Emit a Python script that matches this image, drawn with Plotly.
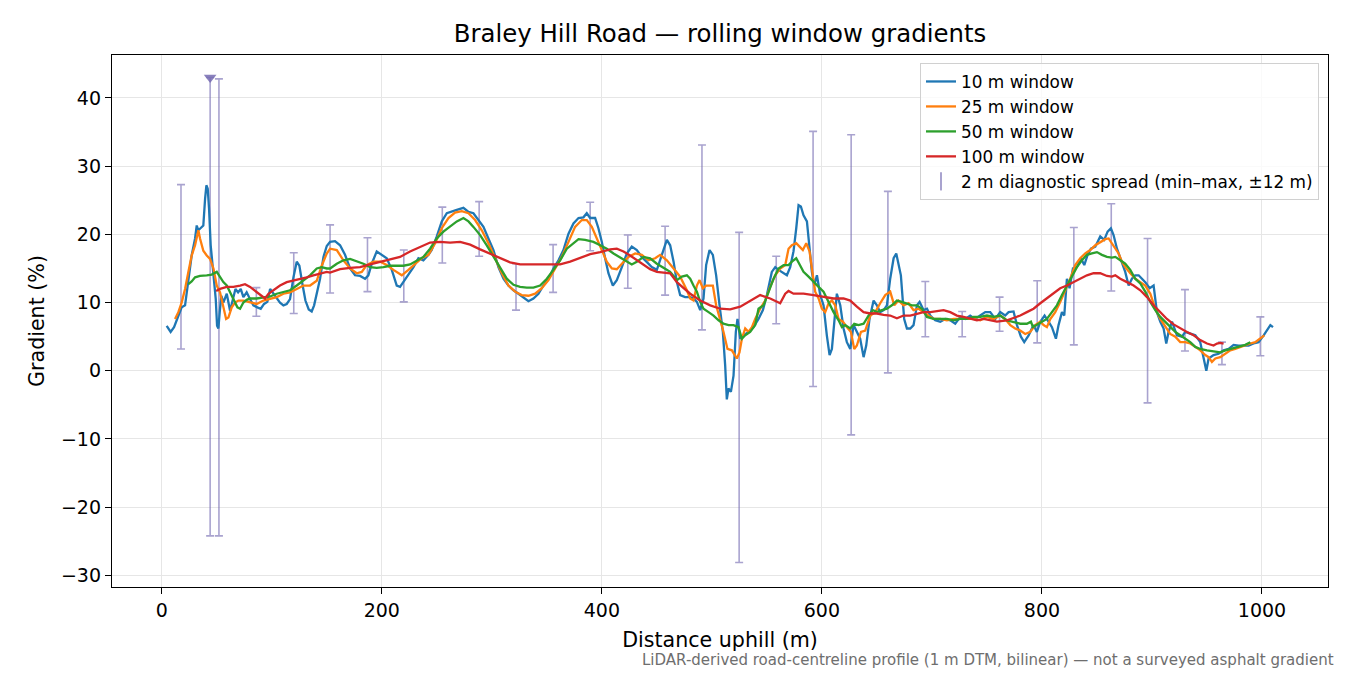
import plotly.graph_objects as go

# distance along the road (m) and gradient (%) for each rolling window
dist_10 = [4.5, 8.1, 11.2, 15.1, 18.1, 21.2, 24.2, 27.2, 30.3, 31.8, 33.3, 36.3, 37.8, 39.4, 40.6, 41.8,
           43.0, 44.5, 46.0, 47.5, 49.1, 50.3, 51.5, 52.7, 54.2, 56.0, 59.1, 62.1, 64.5, 67.0, 69.4, 71.8,
           74.2, 77.2, 80.3, 83.3, 86.9, 90.0, 93.0, 96.0, 98.5, 100.9, 103.9, 107.5, 110.6, 113.6, 116.6,
           119.7, 122.7, 125.1, 128.1, 130.6, 133.6, 136.3, 138.5, 140.9, 143.9, 147.0, 150.0, 153.0, 157.5,
           162.1, 166.6, 171.2, 175.7, 180.3, 184.8, 187.8, 190.9, 195.4, 200.0, 204.5, 209.1, 213.6, 216.6,
           219.7, 224.2, 228.8, 233.3, 237.8, 242.4, 245.4, 250.0, 254.5, 259.1, 263.6, 268.2, 274.2, 278.8,
           283.3, 287.8, 292.4, 296.9, 301.5, 306.0, 310.6, 315.1, 319.7, 324.2, 328.8, 333.3, 337.8, 342.4,
           346.9, 351.5, 356.0, 360.6, 365.1, 369.7, 374.2, 378.8, 383.3, 386.3, 389.4, 393.9, 396.9, 400.0,
           403.0, 406.0, 410.0, 413.6, 418.2, 422.7, 427.2, 431.8, 436.3, 440.9, 445.4, 450.0, 454.5, 459.1,
           462.1, 465.2, 468.2, 471.2, 475.7, 480.3, 483.3, 486.4, 489.4, 492.4, 494.8, 497.9, 500.9, 503.9,
           507.0, 510.0, 512.1, 513.6, 515.1, 517.3, 519.7, 521.8, 523.3, 525.8, 528.8, 533.3, 537.9, 542.4,
           546.4, 550.0, 554.5, 557.6, 560.6, 563.6, 568.2, 571.2, 574.2, 576.7, 578.8, 580.9, 583.3, 586.4,
           588.8, 590.9, 593.0, 595.5, 598.5, 601.5, 604.5, 607.0, 609.1, 611.2, 613.6, 616.7, 619.7, 622.7,
           625.8, 628.8, 631.8, 634.8, 637.9, 640.3, 643.3, 647.0, 650.0, 653.0, 656.1, 659.1, 662.1, 665.2,
           667.6, 669.7, 671.8, 674.8, 677.3, 680.3, 683.3, 686.4, 688.8, 692.4, 695.5, 698.5, 703.0, 707.6,
           712.1, 716.7, 721.2, 725.8, 730.3, 734.8, 739.4, 743.9, 748.5, 753.0, 757.6, 762.1, 766.6, 769.7,
           774.2, 777.3, 780.9, 783.9, 787.9, 792.4, 795.4, 798.5, 802.4, 806.0, 809.1, 812.7, 815.1, 818.2,
           820.3, 822.7, 825.1, 828.2, 831.8, 835.4, 838.5, 841.5, 844.5, 848.5, 853.0, 856.6, 859.7, 862.7,
           865.1, 868.2, 871.2, 875.7, 878.8, 881.8, 884.8, 887.9, 890.9, 893.9, 897.9, 901.5, 904.5, 907.6,
           910.6, 913.0, 915.1, 918.2, 922.7, 927.2, 930.3, 934.8, 939.4, 943.9, 947.6, 949.4, 951.5, 956.0,
           960.6, 965.1, 969.7, 974.2, 978.8, 983.3, 987.9, 992.4, 996.9, 1001.5, 1004.5, 1007.6, 1010.0]
grad_10 = [6.6, 5.7, 6.4, 8.1, 9.3, 9.6, 13.7, 16.9, 19.4, 21.3, 20.6, 21.1, 21.3, 25.2, 27.2, 26.7,
           23.8, 18.4, 15.9, 14.0, 10.5, 6.6, 6.2, 8.6, 11.0, 10.0, 11.3, 8.8, 10.5, 12.0, 11.5, 12.0,
           10.8, 11.5, 10.5, 9.6, 9.3, 9.1, 9.8, 10.1, 12.0, 11.5, 10.9, 10.0, 9.6, 9.8, 10.5,
           13.7, 16.0, 15.4, 12.5, 10.3, 9.0, 8.7, 9.6, 11.5, 13.5, 16.7, 18.3, 18.9, 19.0,
           18.4, 17.0, 15.0, 14.0, 13.9, 13.5, 14.0, 15.7, 17.5, 17.0, 16.5, 14.8, 12.5, 12.3,
           13.0, 14.0, 15.2, 16.5, 16.2, 17.0, 17.7, 19.7, 21.9, 23.1, 23.3, 23.6, 23.9, 23.3,
           23.1, 22.1, 21.1, 19.4, 17.7, 15.2, 13.5, 12.5, 11.8, 11.3, 10.8, 10.2, 10.6, 11.3,
           12.5, 13.5, 15.0, 16.2, 17.7, 20.1, 21.6, 22.4, 22.5, 23.1, 22.4, 22.4, 20.9, 18.9,
           16.5, 14.3, 12.5, 13.3, 15.2, 17.2, 18.2, 17.7, 16.7, 16.0, 15.2, 14.8, 17.0, 19.2,
           18.4, 16.0, 13.0, 11.1, 10.8, 10.8, 10.6, 10.1, 8.9, 10.6, 15.5, 17.7, 17.0, 14.0,
           9.6, 5.7, 0.8, -4.2, -2.6, -3.1, -0.7, 5.7, 7.6, 4.7, 5.2, 5.7, 6.4, 7.6,
           8.9, 11.1, 14.5, 15.2, 14.8, 14.5, 14.0, 15.2, 17.5, 20.9, 24.3, 24.1, 22.8, 21.9,
           18.4, 14.5, 12.5, 14.0, 11.1, 9.6, 5.2, 2.3, 3.2, 7.6, 11.3, 9.6, 6.2, 4.2,
           3.2, 6.7, 5.7, 4.7, 2.0, 3.7, 7.6, 10.3, 9.6, 8.6, 8.9, 9.6, 13.5, 16.5,
           17.2, 15.5, 14.0, 7.6, 6.2, 6.2, 6.7, 9.6, 10.1, 8.9, 9.1, 8.1, 7.4, 7.2,
           7.6, 7.4, 6.9, 7.9, 7.6, 8.1, 7.6, 8.1, 8.6, 8.6, 7.6, 8.6, 8.1, 8.6,
           8.7, 6.7, 5.0, 4.2, 5.2, 6.7, 5.7, 7.2, 8.1, 7.2, 6.4, 4.7, 6.7, 8.6,
           8.1, 13.5, 12.1, 15.0, 15.2, 16.5, 15.5, 17.0, 17.9, 18.2, 19.7, 19.2, 20.4, 20.9,
           19.9, 17.9, 16.5, 14.5, 12.5, 13.5, 14.0, 14.0, 13.5, 13.0, 12.1, 12.5, 8.6, 7.2,
           6.2, 4.0, 5.7, 7.2, 5.2, 5.0, 5.7, 5.4, 5.2, 4.2, 1.3, 0.0, 1.8, 2.3,
           2.5, 3.0, 3.2, 3.8, 3.7, 3.7, 3.7, 4.0, 4.2, 5.2, 5.9, 6.7, 6.4]

dist_25 = [12.1, 15.1, 18.1, 21.2, 24.2, 27.2, 30.3, 33.3, 34.8, 37.8, 40.9, 43.9, 47.0, 50.0, 53.0, 56.0,
           58.5, 60.6, 63.6, 66.6, 69.7, 74.2, 80.3, 86.3, 92.4, 98.5, 104.5, 110.6, 116.6, 122.7, 128.8,
           134.8, 140.9, 145.4, 150.0, 153.0, 159.1, 165.1, 171.2, 177.2, 181.8, 186.3, 192.4, 198.5, 204.5,
           210.6, 218.2, 224.2, 230.3, 236.3, 242.4, 248.5, 254.5, 260.6, 266.6, 272.7, 278.8, 284.8, 290.9,
           296.9, 303.0, 309.1, 315.1, 321.2, 327.2, 333.3, 339.4, 345.4, 351.5, 357.5, 363.6, 369.7, 375.7,
           381.8, 386.3, 390.9, 395.4, 400.0, 404.5, 409.1, 413.6, 418.2, 424.2, 430.3, 436.3, 442.4, 448.5,
           453.0, 459.1, 465.2, 471.2, 477.3, 480.3, 483.3, 486.4, 488.8, 491.8, 494.8, 497.9, 500.9, 503.9,
           507.6, 510.6, 514.2, 518.2, 522.7, 525.1, 527.3, 530.3, 533.3, 536.4, 539.4, 543.9, 548.5, 553.0,
           557.6, 562.1, 566.7, 569.7, 572.7, 576.7, 579.7, 582.7, 585.8, 588.8, 591.8, 593.9, 597.0, 600.0,
           603.0, 606.1, 609.1, 612.1, 615.2, 619.1, 622.7, 626.4, 629.4, 631.8, 635.5, 639.4, 644.0, 648.5,
           653.0, 657.6, 662.1, 665.8, 669.7, 674.2, 678.8, 683.3, 687.9, 692.4, 697.0, 701.5, 707.6, 713.6,
           719.7, 725.8, 731.8, 737.9, 743.9, 750.0, 756.1, 762.1, 766.6, 771.2, 775.7, 780.3, 784.8, 789.4,
           793.9, 798.5, 801.5, 804.5, 807.6, 812.1, 816.6, 821.2, 825.7, 830.3, 834.8, 839.4, 843.9, 848.5,
           853.0, 857.6, 860.6, 863.6, 866.7, 869.7, 872.7, 875.7, 880.3, 884.8, 889.4, 893.9, 898.5, 903.0,
           907.6, 912.1, 916.6, 921.2, 925.7, 930.3, 934.8, 939.4, 943.9, 948.5, 951.5, 954.5, 957.6, 962.1,
           966.7, 971.2, 975.7, 980.3, 984.8, 989.4, 993.9, 998.5, 1002.1]
grad_25 = [7.6, 8.6, 10.0, 12.0, 14.5, 16.9, 18.4, 20.6, 19.4, 17.6, 16.9, 16.4, 15.0, 12.5, 11.5, 9.6,
           7.6, 7.8, 9.3, 10.0, 10.3, 10.3, 10.0, 9.8, 10.3, 10.5, 10.8, 11.3, 11.5, 12.0, 12.5,
           12.5, 13.2, 15.4, 17.2, 17.9, 17.7, 16.2, 15.0, 14.3, 14.5, 15.5, 16.0, 16.0, 15.5,
           14.8, 14.0, 14.8, 15.7, 16.5, 17.0, 18.7, 20.9, 22.4, 23.2, 23.4, 23.1, 22.1, 20.6,
           18.7, 16.5, 14.3, 12.5, 11.6, 11.1, 11.0, 11.3, 12.1, 13.3, 15.0, 16.7, 18.9, 21.1,
           22.1, 22.1, 21.1, 19.4, 17.7, 16.0, 15.0, 14.9, 15.7, 16.7, 17.2, 17.0, 16.2, 16.5,
           17.0, 16.2, 15.0, 13.8, 11.8, 10.6, 10.3, 12.5, 13.3, 12.1, 12.5, 12.5, 12.5, 9.6,
           7.6, 5.7, 3.2, 3.0, 1.8, 2.7, 4.7, 6.2, 5.7, 6.4, 7.6, 9.1, 10.3, 12.3,
           14.0, 15.0, 15.5, 17.9, 18.4, 18.7, 18.2, 17.7, 18.7, 17.5, 14.0, 11.6, 10.6, 9.1,
           8.6, 9.9, 10.3, 9.6, 7.6, 7.2, 6.4, 5.7, 3.2, 3.7, 5.7, 5.9, 8.1, 8.6,
           9.9, 11.1, 11.6, 9.6, 10.3, 9.6, 9.9, 8.9, 9.1, 8.6, 8.1, 7.6, 7.6, 7.4,
           7.6, 7.6, 7.6, 7.6, 7.4, 7.9, 7.6, 8.1, 7.6, 6.7, 6.2, 5.9, 5.4, 5.7,
           6.7, 7.2, 6.7, 6.4, 7.6, 8.6, 10.1, 11.8, 13.5, 15.5, 16.5, 17.2, 17.7, 18.4,
           18.9, 19.3, 19.4, 18.7, 17.9, 17.2, 16.0, 15.2, 14.3, 13.5, 13.0, 12.5, 11.3, 9.1,
           7.6, 6.4, 5.4, 5.0, 4.2, 4.2, 4.0, 3.5, 3.0, 2.3, 2.0, 1.3, 1.8, 2.0,
           2.5, 3.0, 3.2, 3.5, 3.7, 4.0, 4.2, 4.7, 5.2]

dist_50 = [24.2, 27.2, 30.3, 34.8, 40.9, 45.4, 50.0, 53.0, 56.0, 59.1, 62.1, 65.1, 68.8, 71.2, 74.2, 77.2,
           80.3, 86.3, 92.4, 98.5, 104.5, 110.6, 116.6, 122.7, 128.8, 134.8, 140.9, 145.4, 150.0, 153.0,
           159.1, 165.1, 171.2, 177.2, 183.3, 189.4, 195.4, 201.5, 207.5, 213.6, 219.7, 225.7, 231.8, 237.8,
           243.9, 250.0, 256.0, 262.1, 268.2, 274.2, 278.8, 283.3, 289.4, 295.4, 301.5, 307.5, 313.6, 319.7,
           325.7, 331.8, 337.8, 343.9, 350.0, 356.0, 362.1, 368.2, 374.2, 378.8, 384.8, 392.4, 398.5, 404.5,
           410.6, 416.6, 422.7, 427.2, 431.8, 437.9, 443.9, 450.0, 456.0, 462.1, 468.2, 472.7, 477.3, 480.3,
           483.3, 486.4, 489.4, 492.4, 497.0, 501.5, 506.1, 510.6, 515.2, 519.7, 524.2, 527.3, 530.3, 534.8,
           539.4, 542.4, 547.0, 551.5, 556.1, 560.6, 565.2, 569.7, 572.7, 576.7, 579.7, 583.3, 587.9, 592.4,
           597.0, 601.5, 606.1, 610.6, 615.2, 618.2, 621.2, 625.8, 629.4, 633.3, 637.9, 642.4, 646.4, 650.0,
           654.5, 659.1, 663.6, 668.2, 672.7, 677.3, 681.8, 686.4, 690.9, 695.5, 701.5, 707.6, 713.6, 719.7,
           725.8, 731.8, 737.9, 743.9, 750.0, 756.1, 762.1, 768.2, 774.2, 780.3, 786.3, 790.0, 791.8, 795.4,
           800.0, 804.5, 809.1, 813.6, 818.2, 822.7, 827.2, 831.8, 836.3, 840.9, 845.4, 850.0, 854.5, 859.1,
           863.6, 866.7, 871.2, 875.7, 880.3, 884.8, 889.4, 893.9, 898.5, 903.0, 907.6, 912.1, 916.6, 921.2,
           925.7, 930.3, 934.8, 939.4, 943.9, 950.0, 956.0, 962.1, 966.7, 971.2, 975.7, 980.3, 984.8, 989.4]
grad_50 = [12.7, 13.1, 13.7, 13.9, 14.0, 14.1, 14.5, 13.7, 13.0, 12.5, 11.5, 10.5, 9.3, 9.1, 10.0, 10.4,
           10.6, 10.6, 10.7, 10.9, 11.3, 11.5, 11.8, 12.5, 13.2, 14.0, 15.0, 15.2, 15.0, 15.0,
           15.7, 16.2, 16.4, 16.1, 15.7, 15.2, 15.1, 15.2, 15.4, 15.4, 15.4, 15.6, 16.2, 16.7,
           17.9, 19.4, 20.4, 21.1, 21.9, 22.4, 21.9, 21.1, 19.9, 18.4, 16.7, 15.0, 13.5, 12.6,
           12.3, 12.2, 12.2, 12.5, 13.5, 14.8, 16.2, 17.9, 18.7, 19.3, 19.2, 18.9, 18.4, 17.9,
           17.2, 16.6, 16.0, 15.6, 16.0, 16.7, 16.5, 15.7, 15.1, 14.5, 13.3, 13.8, 14.0, 13.5,
           12.5, 11.6, 10.1, 9.1, 8.6, 8.1, 7.4, 6.9, 6.7, 6.7, 6.4, 4.7, 5.2, 5.7,
           6.7, 9.1, 9.6, 11.6, 13.5, 15.0, 15.5, 15.5, 16.0, 16.5, 15.5, 14.5, 13.8, 13.0,
           12.3, 11.6, 10.1, 8.6, 7.4, 6.4, 6.7, 6.2, 6.9, 6.7, 6.9, 8.1, 8.9, 8.6,
           8.9, 9.1, 9.6, 10.3, 10.1, 9.9, 9.6, 9.6, 9.1, 7.9, 7.6, 7.6, 7.6, 7.4,
           7.6, 7.6, 7.9, 7.9, 8.1, 7.9, 8.1, 7.4, 7.2, 6.9, 6.9, 7.2, 6.4, 6.7,
           7.2, 7.6, 8.6, 9.6, 11.1, 12.5, 14.0, 15.2, 16.2, 17.0, 17.2, 17.4, 17.0, 16.7,
           16.6, 16.7, 16.2, 15.7, 14.8, 13.5, 12.8, 11.6, 10.1, 8.9, 7.9, 7.2, 6.4, 5.7,
           5.2, 4.7, 4.2, 3.5, 3.2, 3.0, 2.8, 2.7, 3.0, 3.2, 3.5, 3.7, 3.8, 4.2]

dist_100 = [49.4, 53.0, 59.1, 65.1, 71.2, 75.7, 80.3, 86.3, 93.9, 97.0, 101.5, 107.5, 113.6, 119.7, 125.7,
            131.8, 137.8, 143.9, 150.0, 153.0, 162.1, 171.2, 180.3, 189.4, 198.5, 207.5, 216.6, 225.7, 234.8,
            243.9, 253.0, 262.1, 271.2, 280.3, 289.4, 298.5, 307.5, 316.6, 325.7, 334.8, 343.9, 353.0, 362.1,
            371.2, 380.3, 389.4, 398.5, 407.6, 413.6, 419.7, 425.7, 431.8, 437.9, 443.9, 450.0, 456.0, 462.1,
            468.2, 474.2, 480.3, 489.4, 498.5, 507.6, 516.7, 525.8, 534.8, 543.9, 553.0, 562.1, 566.7, 569.7,
            574.2, 583.3, 592.4, 601.5, 610.6, 619.7, 625.8, 631.8, 637.9, 644.0, 650.0, 656.1, 662.1, 668.2,
            674.2, 680.3, 686.4, 692.4, 698.5, 704.5, 710.6, 716.7, 722.7, 728.8, 734.8, 740.9, 747.0, 753.0,
            759.1, 768.2, 774.2, 780.3, 786.3, 792.4, 798.5, 804.5, 810.6, 816.6, 822.7, 828.8, 834.8, 840.9,
            846.9, 853.0, 859.1, 863.6, 866.7, 871.2, 877.3, 883.3, 889.4, 895.5, 901.5, 907.6, 913.6, 919.7,
            925.7, 931.8, 937.9, 943.9, 950.0, 956.0, 959.1, 962.1, 965.1]
grad_100 = [11.7, 12.0, 12.3, 12.3, 12.5, 12.7, 12.3, 11.5, 10.6, 11.3, 11.8, 12.5, 13.0, 13.2, 13.5,
            13.7, 14.0, 14.2, 14.5, 14.4, 14.9, 15.1, 15.2, 15.6, 16.0, 16.3, 16.7, 17.5, 18.2,
            18.8, 18.9, 18.8, 18.9, 18.5, 17.8, 17.2, 16.5, 15.9, 15.6, 15.6, 15.7, 15.6, 15.6,
            16.0, 16.6, 17.1, 17.4, 17.8, 17.9, 17.5, 16.9, 16.2, 15.6, 14.9, 14.5, 14.4, 14.3,
            13.0, 12.1, 11.3, 10.3, 9.6, 9.1, 9.0, 9.4, 10.3, 11.1, 10.6, 9.9, 11.3, 11.7,
            11.3, 11.3, 11.1, 10.8, 10.6, 10.6, 10.3, 9.4, 8.6, 8.4, 8.4, 8.2, 8.1, 7.7,
            8.1, 8.1, 8.4, 8.6, 8.6, 8.7, 8.9, 8.6, 8.1, 7.9, 7.6, 7.4, 7.6, 7.4,
            7.2, 7.4, 7.7, 8.1, 8.6, 9.1, 9.9, 10.6, 11.3, 12.1, 12.5, 13.0, 13.5, 14.0,
            14.3, 14.3, 13.9, 13.8, 14.0, 13.5, 13.0, 12.5, 11.8, 10.8, 9.6, 8.6, 7.6, 6.8,
            6.2, 5.7, 5.2, 4.5, 4.0, 3.7, 4.0, 4.1, 4.0]

# 2 m diagnostic spread: min and max within +/-12 m of each sample point
spread_x = [17.5, 44.0, 52.0, 86.0, 120.0, 153.0, 187.0, 220.0, 255.0, 288.5, 322.0, 355.7, 389.4, 423.6,
            457.5, 491.0, 524.8, 558.5, 592.0, 626.6, 660.0, 694.0, 727.5, 761.5, 795.7, 829.0, 863.0,
            896.0, 930.0, 963.6, 998.5]
spread_lo = [3.2, -24.2, -24.2, 8.0, 8.4, 11.4, 11.6, 10.1, 15.8, 16.8, 8.9, 11.5, 17.6, 12.1,
             11.1, 6.0, -28.1, 6.9, -2.3, -9.4, -0.3, 5.0, 5.0, 5.8, 4.1, 3.8, 11.7,
             -4.7, 2.9, 0.9, 2.2]
spread_hi = [27.3, 43.0, 42.8, 12.2, 17.3, 21.4, 19.5, 17.7, 24.0, 24.8, 15.7, 18.5, 24.7, 19.9,
             21.2, 33.1, 20.3, 16.8, 35.1, 34.6, 26.3, 13.1, 8.7, 10.8, 13.2, 21.0, 24.5,
             19.4, 11.9, 4.2, 7.9]

# steepest 2 m reading
peak_x = [44.0]
peak_y = [43.0]

x_ticks = [0, 200, 400, 600, 800, 1000]
y_ticks = [-30, -20, -10, 0, 10, 20, 30, 40]
y_labels = [str(v).replace("-", "\u2212") for v in y_ticks]

SPREAD = "rgba(117,107,177,0.62)"
FONT = "DejaVu Sans"

fig = go.Figure()

fig.add_trace(go.Scatter(
    x=spread_x, y=spread_lo, mode="markers",
    marker=dict(size=1, color="rgba(0,0,0,0)"),
    error_y=dict(type="data", symmetric=False,
                 array=[h - l for h, l in zip(spread_hi, spread_lo)],
                 arrayminus=[0] * len(spread_lo),
                 color=SPREAD, thickness=1.6, width=4),
    showlegend=False, hoverinfo="skip"))

fig.add_trace(go.Scatter(
    x=peak_x, y=peak_y, mode="markers",
    marker=dict(symbol="triangle-down", size=11, color="rgba(117,107,177,0.85)"),
    showlegend=False))

for d, g, name, col in [(dist_10, grad_10, "10 m window", "#1f77b4"),
                        (dist_25, grad_25, "25 m window", "#ff7f0e"),
                        (dist_50, grad_50, "50 m window", "#2ca02c"),
                        (dist_100, grad_100, "100 m window", "#d62728")]:
    fig.add_trace(go.Scatter(x=d, y=g, mode="lines", name=name,
                             line=dict(color=col, width=2.3)))

# legend entry for the error bars
fig.add_trace(go.Scatter(
    x=[None], y=[None], mode="markers", name="2 m diagnostic spread (min\u2013max, \u00b112 m)",
    marker=dict(symbol="line-ns-open", size=13, color=SPREAD, line=dict(width=2, color=SPREAD))))

# the page adds an 8 px body margin, so the figure is laid out 8 px up/left
fig.update_layout(
    width=1350, height=675,
    margin=dict(l=104, r=30, t=47, b=96),
    paper_bgcolor="white", plot_bgcolor="white",
    font=dict(family=FONT, size=19, color="black"),
    title=dict(text="Braley Hill Road \u2014 rolling window gradients",
               x=0.5, xref="paper", xanchor="center",
               y=1 - 25 / 675, yref="container", yanchor="middle",
               font=dict(size=24.4, family=FONT)),
    legend=dict(x=0.9926, y=0.985, xanchor="right", yanchor="top",
                bgcolor="rgba(255,255,255,0.8)", bordercolor="#d0d0d0", borderwidth=1,
                font=dict(size=16.9, family=FONT)),
    showlegend=True,
)

fig.update_xaxes(
    range=[-45.2, 1060], tickvals=x_ticks, tickfont=dict(size=19),
    showgrid=True, gridcolor="#e6e6e6", gridwidth=1, zeroline=False,
    showline=True, linecolor="black", linewidth=1.3, mirror=True,
    ticks="outside", ticklen=6, tickwidth=1.3, tickcolor="black",
    title=dict(text="Distance uphill (m)", standoff=12, font=dict(size=20.6)),
    automargin=False)
fig.update_yaxes(
    range=[-31.7, 46.3], tickvals=y_ticks, ticktext=y_labels, tickfont=dict(size=19),
    showgrid=True, gridcolor="#e6e6e6", gridwidth=1, zeroline=False,
    showline=True, linecolor="black", linewidth=1.3, mirror=True,
    ticks="outside", ticklen=6, tickwidth=1.3, tickcolor="black",
    title=dict(text="Gradient (%)", standoff=10, font=dict(size=20.6)),
    automargin=False)

fig.add_annotation(
    text="LiDAR-derived road-centreline profile (1 m DTM, bilinear) \u2014 not a surveyed asphalt gradient",
    xref="paper", yref="paper", x=(1328 - 104) / 1216, y=(579 - 652) / 532,
    xanchor="right", yanchor="middle", showarrow=False,
    font=dict(size=15, color="#6e6e6e", family=FONT))

fig.write_html("out.html")
